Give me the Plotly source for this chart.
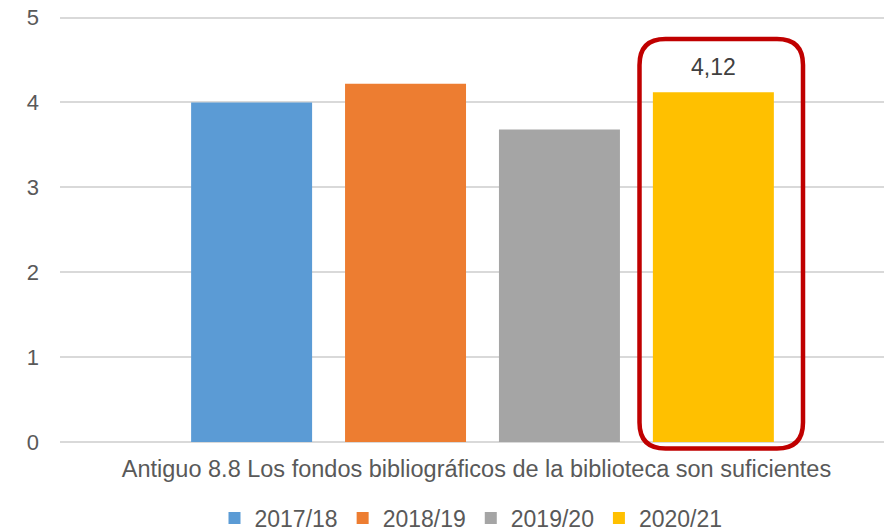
import plotly.graph_objects as go

categories = ["Antiguo 8.8 Los fondos bibliográficos de la biblioteca son suficientes"]
series_names = ["2017/18", "2018/19", "2019/20", "2020/21"]
series_values = [4.00, 4.22, 3.68, 4.12]
series_colors = ["#5B9BD5", "#ED7D31", "#A5A5A5", "#FFC000"]
y_ticks = [0, 1, 2, 3, 4, 5]
highlight_index = 3

# the page body has an 8px margin, so the figure is offset by 8px
OFF = 8
W, H = 892 - OFF, 532
ML, MR = 60 - OFF, 0
PLOT_BOTTOM = 442 - OFF
PX_PER_UNIT = 84.8
YMAX = 5.03  # slightly above 5 so the top gridline is drawn
PH = YMAX * PX_PER_UNIT
MT = PLOT_BOTTOM - PH
MB = H - PLOT_BOTTOM
PW = W - ML - MR
BARGAP = 0.26
TXT = "#595959"
FONT = "Liberation Sans, Arial, sans-serif"

fig = go.Figure()
for name, val, col in zip(series_names, series_values, series_colors):
    fig.add_trace(go.Bar(x=categories, y=[val], name=name, marker_color=col,
                         marker_line_width=0, hoverinfo="skip"))

# data label on highlighted bar
slot = (1 - BARGAP) / len(series_names)
hx = (highlight_index - (len(series_names) - 1) / 2) * slot
hv = series_values[highlight_index]
fig.add_annotation(x=hx, y=hv, xref="x", yref="y", text=f"{hv:.2f}".replace(".", ","),
                   showarrow=False, yanchor="middle", yshift=25,
                   font=dict(size=23, color="#404040", family=FONT))

# rounded highlight rectangle (page pixel geometry -> paper coords)
def px(x):
    return (x - OFF - ML) / PW

def py(y):
    return (PLOT_BOTTOM - (y - OFF)) / PH

x0, x1, y0, y1, r = 639.5, 803, 39.5, 448.5, 26
pts = [
    ("M", [(x0 + r, y0)]),
    ("L", [(x1 - r, y0)]),
    ("Q", [(x1, y0), (x1, y0 + r)]),
    ("L", [(x1, y1 - r)]),
    ("Q", [(x1, y1), (x1 - r, y1)]),
    ("L", [(x0 + r, y1)]),
    ("Q", [(x0, y1), (x0, y1 - r)]),
    ("L", [(x0, y0 + r)]),
    ("Q", [(x0, y0), (x0 + r, y0)]),
]
path = " ".join(cmd + " " + " ".join(f"{px(a):.5f},{py(b):.5f}" for a, b in p) for cmd, p in pts) + " Z"
fig.add_shape(type="path", path=path, xref="paper", yref="paper",
              line=dict(color="#C00000", width=4.5), fillcolor="rgba(0,0,0,0)", layer="above")

fig.update_layout(
    width=W, height=H,
    margin=dict(l=ML, r=MR, t=MT, b=MB, pad=0, autoexpand=False),
    paper_bgcolor="white", plot_bgcolor="white",
    barmode="group", bargap=BARGAP, bargroupgap=0.214,
    font=dict(family=FONT, color=TXT, size=20),
    showlegend=True,
    legend=dict(orientation="h", x=0.5 - 5 / PW, xanchor="center", yref="container",
                y=1 - (518 - OFF) / H, yanchor="middle",
                font=dict(size=23, color=TXT), itemclick=False, traceorder="normal"),
    xaxis=dict(type="category", range=[-0.5078, 0.4922], showgrid=False, showline=False,
               ticks="", tickfont=dict(size=23.5, color=TXT), ticklabelstandoff=10,
               ticklabelshift=-6, automargin=False),
    yaxis=dict(range=[0, YMAX], tickvals=y_ticks, showgrid=True, gridcolor="#D9D9D9", gridwidth=1.5,
               zeroline=True, zerolinecolor="#D9D9D9", zerolinewidth=1.5, showline=False,
               ticks="", tickfont=dict(size=22, color=TXT), ticklabelstandoff=20,
               ticklabeloverflow="allow", automargin=False),
)

fig.write_html("out.html")
